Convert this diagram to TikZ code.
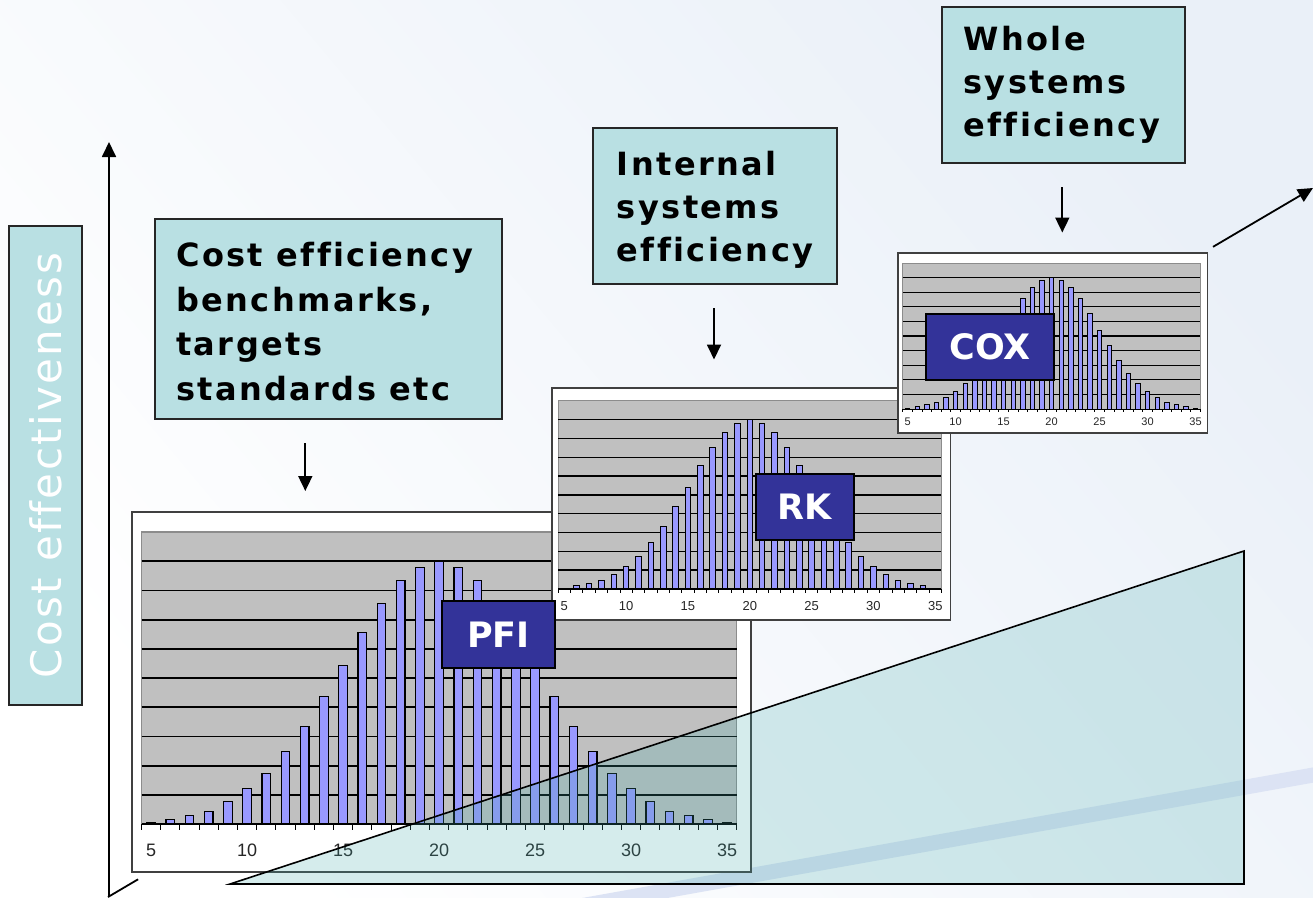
\documentclass[tikz,border=0pt]{standalone}
\usepackage{fontspec}
\usetikzlibrary{arrows.meta,calc}
\newfontfamily\boxfont{DejaVu Sans}[LetterSpace=7.5,Ligatures=NoCommon]
\newfontfamily\axisfont{DejaVu Sans}[LetterSpace=6,Ligatures=NoCommon]
\newfontfamily\tagfont{DejaVu Sans}
\newfontfamily\numfont{Liberation Sans}
\definecolor{boxteal}{HTML}{B9E0E3}
\definecolor{navy}{HTML}{333399}
\definecolor{barblue}{HTML}{9999FF}
\definecolor{plotgray}{HTML}{C0C0C0}
\definecolor{plotedge}{HTML}{8C8C8C}
\definecolor{chartframe}{HTML}{404040}
\definecolor{tri}{HTML}{43ABAB}
\definecolor{swoosh}{HTML}{DCE3F4}
\definecolor{bgblue}{HTML}{EAF0F8}
\tikzset{
  tbox/.style={draw=black!85, line width=1.8pt, fill=boxteal, inner sep=0pt, anchor=north west},
  ttext/.style={inner sep=0pt, anchor=north west, align=left, text=black},
  tagbox/.style={draw=black, line width=2pt, fill=navy, text=white, inner sep=0pt,
    font=\tagfont\bfseries\fontsize{35}{35}\selectfont},
  arr/.style={line width=1.8pt, -{Triangle[length=15pt,width=14pt]}},
  axisline/.style={line width=1.8pt}
}
\newcommand{\histchart}[6]{%
\begin{scope}[shift={(#1,#2)},scale=#3]
\coordinate (#6-nw) at (0,0);
\fill[white] (0,0) rectangle (619,360);
\draw[chartframe, line width=#4*1.8pt] (0,0) rectangle (619,360);
\fill[plotgray] (9.5,20) rectangle (604.7,312);
\draw[plotedge, line width=#4*1.2pt] (9.5,20) rectangle (604.7,312);
\foreach \k in {1,...,9}{\draw[black, line width=#4*1.8pt] (9.5,{312-29.2*\k}) -- (604.7,{312-29.2*\k});}
\foreach \h [count=\i from 0] in {0.04,0.16,0.29,0.44,0.77,1.22,1.74,2.47,3.33,4.38,5.42,6.55,7.55,8.33,8.8,9.0,8.8,8.33,7.55,6.55,5.42,4.38,3.33,2.47,1.74,1.22,0.77,0.44,0.29,0.16,0.04}{%
  \filldraw[fill=barblue, draw=black, line width=#4*1.1pt] ({14.8+19.2*\i},312) rectangle ({23.4+19.2*\i},{312-29.2*\h});}
\draw[black, line width=#4*1.5pt] (9.5,312) -- (604.7,312);
\foreach \i in {0,...,31}{\draw[black, line width=#4*1.1pt] ({9.5+19.2*\i},312) -- ({9.5+19.2*\i},318);}
\foreach \v [count=\j from 0] in {5,10,...,35}{%
  \node[font=\numfont\fontsize{#5}{#5}\selectfont, text=black!85, inner sep=0pt] (#6-lab\v) at ({19.1+96*\j},338) {\v};}
\end{scope}}
\begin{document}
\begin{tikzpicture}[x=1pt,y=-1pt]
\useasboundingbox (0,0) rectangle (1313,897);
% background
\shade[top color=bgblue, bottom color=white, shading angle=-50] (0,0) rectangle (1313,897);
\draw[swoosh, line width=15pt] (580,906) -- (1330,772);
% axes
\coordinate (yaxS) at (109,897);
\coordinate (yaxE) at (109,142);
\draw[axisline, arr] (yaxS) -- (yaxE);
\coordinate (xaxS) at (108,897);
\coordinate (xaxE) at (1313,188);
\draw[axisline] (xaxS) -- ($(xaxS)!0.025!(xaxE)$);
\draw[axisline, arr] ($(xaxS)!0.917!(xaxE)$) -- (xaxE);
% charts
\histchart{132}{512}{1}{1}{18}{pfichart}
\histchart{552}{388}{0.644}{0.8}{13}{rkchart}
\histchart{898}{253}{0.5}{0.65}{11}{coxchart}
% tags
\node[tagbox, minimum width=113pt, minimum height=67pt] (pfi) at (498.5,634.5) {PFI};
\node[tagbox, minimum width=98pt, minimum height=66pt] (rk) at (805,507) {RK};
\node[tagbox, minimum width=128pt, minimum height=66pt] (cox) at (990,347) {COX};
% text boxes
\node[tbox, minimum width=347pt, minimum height=200pt] (b1) at (154,218) {};
\node[ttext, font=\boxfont\bfseries\fontsize{32}{44.5}\selectfont] (t1) at (176,242.4)
  {Cost efficiency\\benchmarks,\\targets\\standards etc};
\node[tbox, minimum width=243.4pt, minimum height=156pt] (b2) at (592.3,127.3) {};
\node[ttext, font=\boxfont\bfseries\fontsize{32}{43.3}\selectfont] (t2) at (616.7,150.7)
  {Internal\\systems\\efficiency};
\node[tbox, minimum width=243.3pt, minimum height=156.3pt] (b3) at (940.7,6) {};
\node[ttext, font=\boxfont\bfseries\fontsize{32}{43.3}\selectfont] (t3) at (963.3,25.7)
  {Whole\\systems\\efficiency};
% small arrows
\coordinate (a1s) at (305.3,443);
\coordinate (a1e) at (305.3,491);
\draw[arr] (a1s) -- (a1e);
\coordinate (a2s) at (714,308);
\coordinate (a2e) at (714,359.5);
\draw[arr] (a2s) -- (a2e);
\coordinate (a3s) at (1062.3,187);
\coordinate (a3e) at (1062.3,232.5);
\draw[arr] (a3s) -- (a3e);
% y label
\node[draw=black!85, line width=1.5pt, fill=boxteal, text=white, rotate=90,
  minimum width=479pt, minimum height=73pt, inner sep=0pt,
  font=\axisfont\fontsize{42}{43}\selectfont] (ylab) at (45.5,465.5) {Cost effectiveness};
% triangle
\filldraw[fill=tri, fill opacity=0.22, draw=black, line width=1.6pt]
  (230,884) -- (1244,551) -- (1244,884) -- cycle;
\end{tikzpicture}
\end{document}
